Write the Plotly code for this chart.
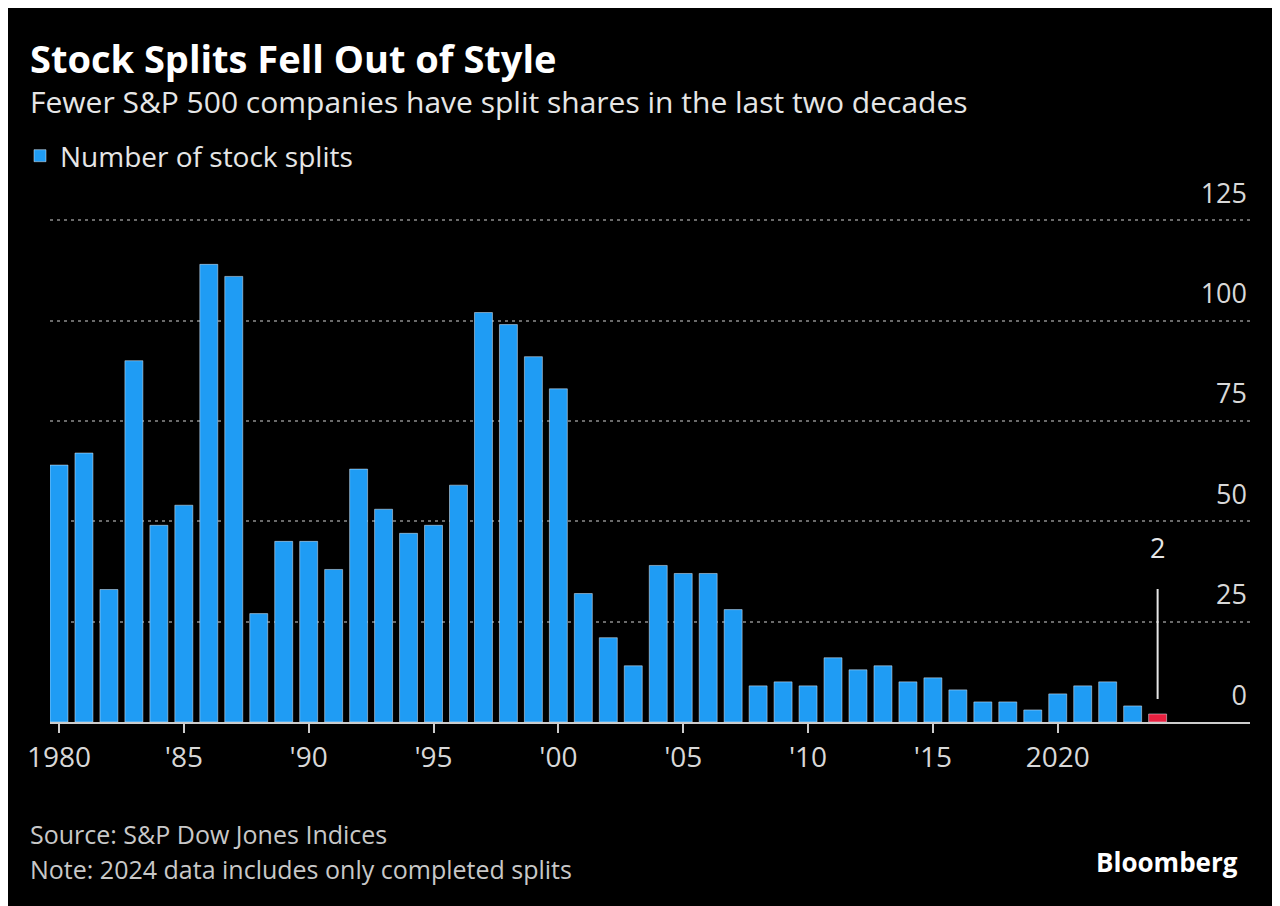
import plotly.graph_objects as go

years = list(range(1980, 2025))
splits = [64, 67, 33, 90, 49, 54, 114, 111, 27, 45,
          45, 38, 63, 53, 47, 49, 59, 102, 99, 91,
          83, 32, 21, 14, 39, 37, 37, 28, 9, 10,
          9, 16, 13, 14, 10, 11, 8, 5, 5, 3,
          7, 9, 10, 4, 2]
tick_years = [1980, 1985, 1990, 1995, 2000, 2005, 2010, 2015, 2020]
tick_text = ["1980", "'85", "'90", "'95", "'00", "'05", "'10", "'15", "2020"]
y_ticks = [0, 25, 50, 75, 100, 125]

BLUE = "#1f9cf4"
RED = "#e8203f"
FONT = "Open Sans"

# page has an 8px body margin; figure sized so it fits the 1280x906 window
W, H = 1272, 898
Y_MAX = 140
L, R, B = 42, 30, 184
T = int(round(H - B - Y_MAX * 4.013))
pw, ph = W - L - R, H - T - B


def px(xp):
    return (xp - L) / pw


def py(yp):
    return (H - B - yp) / ph


fig = go.Figure()
fig.add_trace(go.Bar(x=years[:-1], y=splits[:-1], marker_color=BLUE, width=0.72,
                     name="Number of stock splits"))
fig.add_trace(go.Bar(x=years[-1:], y=splits[-1:], marker_color=RED, width=0.72,
                     showlegend=False))

fig.add_annotation(x=years[-1], y=splits[-1], text=str(splits[-1]), showarrow=True,
                   arrowhead=0, arrowwidth=2, arrowcolor="#e6e6e6", ax=0, ay=-166,
                   standoff=15, borderpad=22, font=dict(family=FONT, size=27, color="#e6e6e6"))

# title + subtitle as one two-line block
fig.add_annotation(xref="paper", yref="paper", x=px(20), y=py(69), xanchor="left", yanchor="middle",
                   align="left", showarrow=False,
                   text=("<span style='font-size:38px;color:#ffffff'><b>Stock Splits Fell Out of Style</b></span><br>"
                         "<span style='font-size:30px'>Fewer S&P 500 companies have split shares in the last two decades</span>"),
                   font=dict(family=FONT, size=31, color="#e6e6e6"))
# source + note as one two-line block
fig.add_annotation(xref="paper", yref="paper", x=px(20), y=py(843), xanchor="left", yanchor="middle",
                   align="left", showarrow=False,
                   text=("<span style='font-size:25px'>Source: S&P Dow Jones Indices</span><br>"
                         "<span style='font-size:25px'>Note: 2024 data includes only completed splits</span>"),
                   font=dict(family=FONT, size=27, color="#c8c8c8"))
fig.add_annotation(xref="paper", yref="paper", x=px(1232), y=py(854), xanchor="right", yanchor="middle",
                   text="<b>Bloomberg</b>", showarrow=False,
                   font=dict(family=FONT, size=26, color="white"))

fig.update_layout(
    width=W, height=H,
    margin=dict(l=L, r=R, t=T, b=B),
    paper_bgcolor="black", plot_bgcolor="black",
    barmode="overlay",
    showlegend=True,
    legend=dict(x=px(12), y=py(148), xanchor="left", yanchor="middle", orientation="h",
                font=dict(family=FONT, size=28, color="#e6e6e6"), bgcolor="rgba(0,0,0,0)"),
    font=dict(family=FONT, color="#d8d8d8"),
)
fig.update_xaxes(range=[1979.64, 2027.7], tickvals=tick_years, ticktext=tick_text,
                 ticks="outside", ticklen=9, tickwidth=2, tickcolor="#cccccc",
                 showgrid=False, showline=True, linecolor="#cccccc", linewidth=2,
                 tickfont=dict(family=FONT, size=28, color="#d8d8d8"), zeroline=False)
fig.update_yaxes(range=[0, Y_MAX], side="right", tickvals=y_ticks,
                 ticklabelposition="inside top", ticklabelshift=-8, ticklabelstandoff=0,
                 showgrid=True, gridcolor="#6a6a6a", griddash="3px,4px", gridwidth=1.5,
                 zeroline=False, showline=False, ticks="",
                 tickfont=dict(family=FONT, size=27, color="#d8d8d8"))

fig.write_html("out.html")
